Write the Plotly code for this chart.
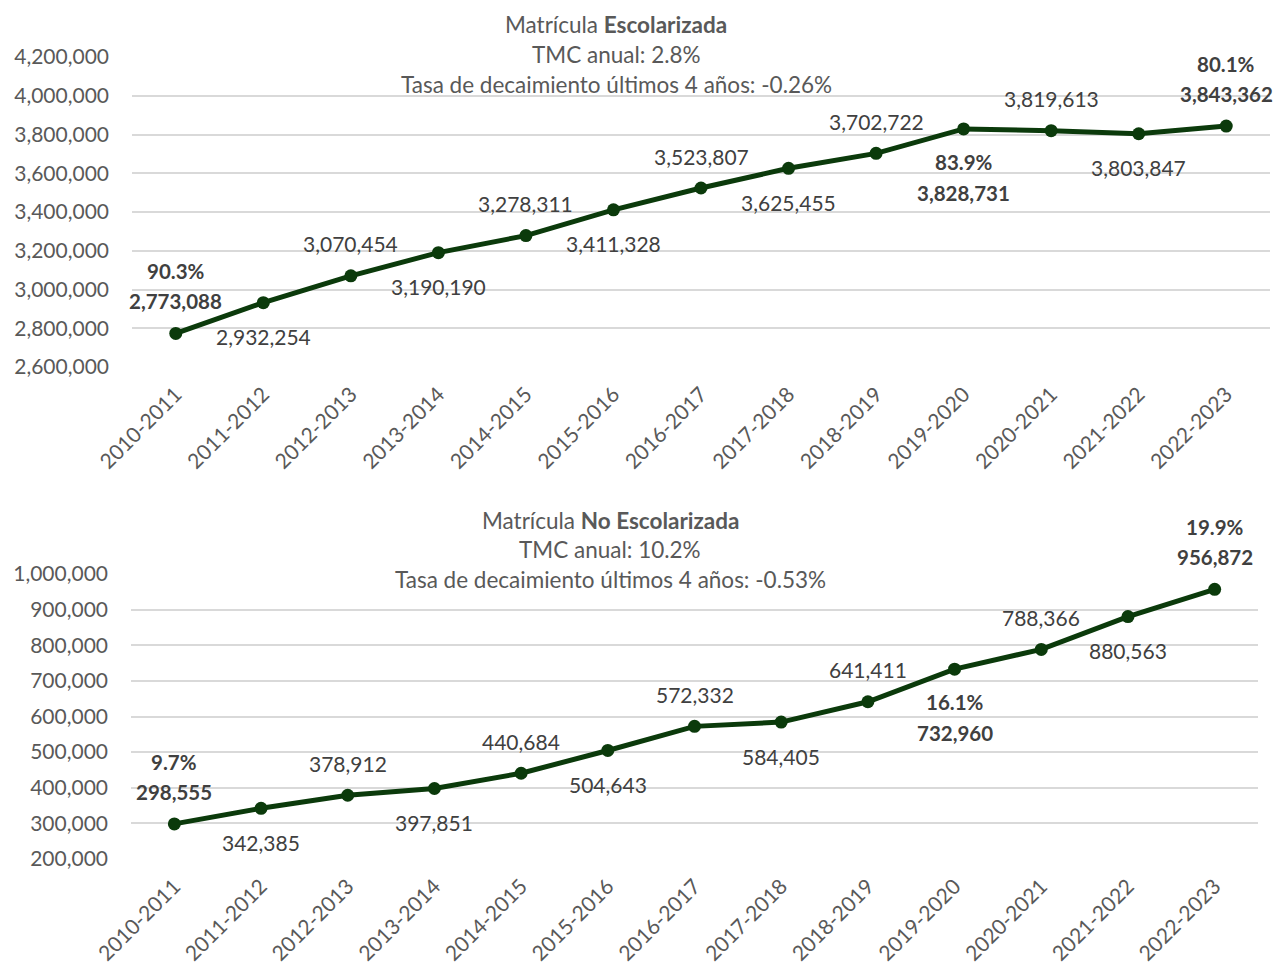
import plotly.graph_objects as go

years = ["2010-2011", "2011-2012", "2012-2013", "2013-2014", "2014-2015", "2015-2016",
         "2016-2017", "2017-2018", "2018-2019", "2019-2020", "2020-2021", "2021-2022", "2022-2023"]
escolarizada = [2773088, 2932254, 3070454, 3190190, 3278311, 3411328, 3523807,
                3625455, 3702722, 3828731, 3819613, 3803847, 3843362]
no_escolarizada = [298555, 342385, 378912, 397851, 440684, 504643, 572332,
                   584405, 641411, 732960, 788366, 880563, 956872]
highlight_idx = [0, 9, 12]
share_esc = ["90.3%", "83.9%", "80.1%"]
share_noesc = ["9.7%", "16.1%", "19.9%"]

title_esc = ["Matrícula <b>Escolarizada</b>", "TMC anual: 2.8%",
             "Tasa de decaimiento últimos 4 años: -0.26%"]
title_noesc = ["Matrícula <b>No Escolarizada</b>", "TMC anual: 10.2%",
               "Tasa de decaimiento últimos 4 años: -0.53%"]

FONT = "Lato"
LINE = "#0B3A0B"
TXT = "#404040"
TICK = "#595959"
GRID = "#D9D9D9"
FS = 21
W, H = 1276, 965

fig = go.Figure()
for vals, xa, ya in [(escolarizada, "x", "y"), (no_escolarizada, "x2", "y2")]:
    fig.add_trace(go.Scatter(x=years, y=vals, mode="lines+markers", xaxis=xa, yaxis=ya,
                             line=dict(color=LINE, width=5),
                             marker=dict(color=LINE, size=13),
                             showlegend=False, hoverinfo="skip", cliponaxis=False))

ann = []
for vals, shares, xr, yr in [(escolarizada, share_esc, "x", "y"),
                             (no_escolarizada, share_noesc, "x2", "y2")]:
    for i, (yr_lbl, v) in enumerate(zip(years, vals)):
        above = (i % 2 == 0)
        near = 32 if above else -34
        bold = i in highlight_idx
        txt = f"{v:,}"
        f = dict(size=FS, color=TXT, family=FONT)
        if bold:
            txt = f"<b>{txt}</b>"
            pct = f"<b>{shares[highlight_idx.index(i)]}</b>"
            fb = dict(size=20.5, color=TXT, family=FONT)
            if above:
                ann.append(dict(x=yr_lbl, y=v, xref=xr, yref=yr, text=pct,
                                showarrow=False, yshift=near + 30, font=fb))
                ann.append(dict(x=yr_lbl, y=v, xref=xr, yref=yr, text=txt,
                                showarrow=False, yshift=near, font=fb))
            else:
                ann.append(dict(x=yr_lbl, y=v, xref=xr, yref=yr, text=pct,
                                showarrow=False, yshift=near + 1, font=fb))
                ann.append(dict(x=yr_lbl, y=v, xref=xr, yref=yr, text=txt,
                                showarrow=False, yshift=near - 30, font=fb))
        else:
            ann.append(dict(x=yr_lbl, y=v, xref=xr, yref=yr, text=txt,
                            showarrow=False, yshift=near, font=f))

for lines, cx, ys in [(title_esc, 616, [25, 55, 85]), (title_noesc, 610, [520, 549, 579])]:
    for t, yy in zip(lines, ys):
        ann.append(dict(x=cx / W, y=1 - yy / H, xref="paper", yref="paper", text=t,
                        showarrow=False, xanchor="center", yanchor="middle",
                        font=dict(size=22.5, color=TICK, family=FONT)))

axis_common = dict(showline=False, zeroline=False, ticks="", automargin=False,
                   tickfont=dict(size=FS, color=TICK, family=FONT))

fig.update_layout(
    width=W, height=H,
    margin=dict(l=0, r=0, t=0, b=0, autoexpand=False),
    paper_bgcolor="white", plot_bgcolor="white",
    font=dict(family=FONT, color=TICK),
    xaxis=dict(domain=[132 / W, 1270 / W], anchor="y", type="category",
               range=[-0.5, 12.5], tickangle=-45, showgrid=False,
               ticklabelstandoff=10, **axis_common),
    yaxis=dict(domain=[1 - 367 / H, 1 - 57 / H], anchor="x", range=[2600000, 4200000],
               dtick=200000, tickformat=",", showgrid=True, gridcolor=GRID, gridwidth=1.5,
               ticklabelstandoff=22, **axis_common),
    xaxis2=dict(domain=[131 / W, 1258 / W], anchor="y2", type="category",
                range=[-0.5, 12.5], tickangle=-45, showgrid=False,
                ticklabelstandoff=10, **axis_common),
    yaxis2=dict(domain=[1 - 859 / H, 1 - 574 / H], anchor="x2", range=[200000, 1000000],
                dtick=100000, tickformat=",", showgrid=True, gridcolor=GRID, gridwidth=1.5,
                ticklabelstandoff=22, **axis_common),
    annotations=ann,
)

fig.write_html("out.html", config={"displayModeBar": False},
               post_script="document.body.style.margin='0';document.body.style.overflow='hidden';")
